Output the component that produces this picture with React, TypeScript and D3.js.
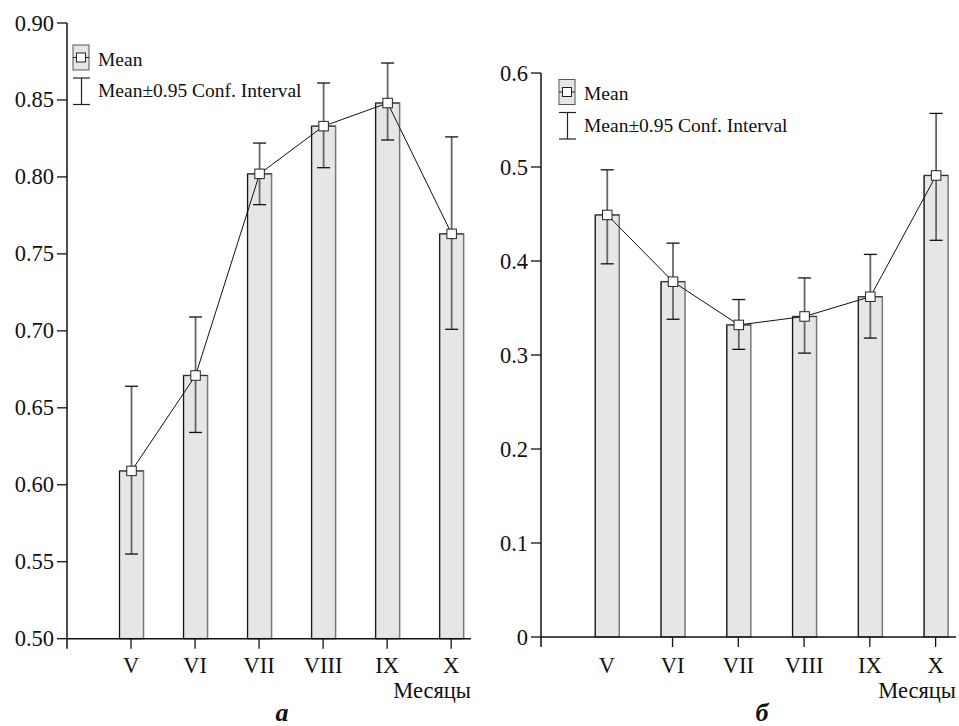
import React from "react";
import * as d3 from "d3";

const months = ["V", "VI", "VII", "VIII", "IX", "X"];

const meanA = [0.609, 0.671, 0.802, 0.833, 0.848, 0.763];
const upperA = [0.664, 0.709, 0.822, 0.861, 0.874, 0.826];
const lowerA = [0.555, 0.634, 0.782, 0.806, 0.824, 0.701];
const yTicksA = [0.5, 0.55, 0.6, 0.65, 0.7, 0.75, 0.8, 0.85, 0.9];

const meanB = [0.449, 0.378, 0.332, 0.341, 0.362, 0.491];
const upperB = [0.497, 0.419, 0.359, 0.382, 0.407, 0.557];
const lowerB = [0.397, 0.338, 0.306, 0.302, 0.318, 0.422];
const yTicksB = [0, 0.1, 0.2, 0.3, 0.4, 0.5, 0.6];

const legendMean = "Mean";
const legendCI = "Mean±0.95 Conf. Interval";
const xTitle = "Месяцы";

const FONT = "Liberation Serif, Times New Roman, Times, serif";
const ts = (size: number, extra: any = {}) => ({ fontFamily: FONT, fontSize: size + "px", fill: "#111", ...extra });

type PanelProps = {
  x0: number; x1: number; yTop: number; yBot: number;
  domain: [number, number];
  ticks: number[]; fmt: (v: number) => string;
  means: number[]; uppers: number[]; lowers: number[];
  lx: number; ly: number;
  letter: string; letterX: number;
  skipFirstTick?: boolean;
};

function Panel(p: PanelProps) {
  const x = d3.scaleLinear().domain([0, 6.31]).range([p.x0, p.x1]);
  const y = d3.scaleLinear().domain(p.domain).range([p.yBot, p.yTop]);
  const barW = 24;
  const capW = 13;
  const line = d3.line<number>().x((_, i) => x(i + 1) + 0.5).y((d) => y(d));
  return (
    <g>
      {p.means.map((m, i) => {
        const cx = x(i + 1) + 0.5;
        const top = y(m);
        return (
          <g key={"b" + i}>
            <rect x={cx - barW / 2} y={top} width={barW} height={p.yBot - top}
              fill="#e6e6e6" stroke="#777" strokeWidth={1.5} />
            <line x1={cx - barW / 2} x2={cx - barW / 2} y1={top} y2={p.yBot} stroke="#111" strokeWidth={1} />
            <line x1={cx - barW / 2} x2={cx + barW / 2} y1={top} y2={top} stroke="#333" strokeWidth={1} />
          </g>
        );
      })}
      {p.means.map((m, i) => {
        const cx = x(i + 1) + 0.5;
        return (
          <g key={"e" + i}>
            <line x1={cx} x2={cx} y1={y(p.uppers[i])} y2={y(p.lowers[i])} stroke="#666" strokeWidth={1.8} />
            <line x1={cx - capW / 2} x2={cx + capW / 2} y1={y(p.uppers[i])} y2={y(p.uppers[i])} stroke="#111" strokeWidth={1.3} />
            <line x1={cx - capW / 2} x2={cx + capW / 2} y1={y(p.lowers[i])} y2={y(p.lowers[i])} stroke="#111" strokeWidth={1.3} />
          </g>
        );
      })}
      <path d={line(p.means) || ""} fill="none" stroke="#111" strokeWidth={1} />
      {p.means.map((m, i) => (
        <rect key={"m" + i} x={x(i + 1) + 0.5 - 4.75} y={y(m) - 4.75} width={9.5} height={9.5}
          fill="#fff" stroke="#222" strokeWidth={1} />
      ))}
      <line x1={p.x0} x2={p.x0} y1={p.yTop} y2={p.yBot + 10} stroke="#111" strokeWidth={1.5} />
      {p.ticks.map((t, i) => (
        <g key={"yt" + i}>
          <line x1={p.x0 - 10} x2={p.x0} y1={y(t)} y2={y(t)} stroke="#111" strokeWidth={1.3} />
          <text x={p.x0 - 13} y={y(t) + 7.5} textAnchor="end" style={ts(22.5)}>{p.fmt(t)}</text>
        </g>
      ))}
      <line x1={p.x0} x2={p.x1} y1={p.yBot} y2={p.yBot} stroke="#111" strokeWidth={1.5} />
      {months.map((mo, i) => (
        <g key={"xt" + i}>
          {!(p.skipFirstTick && i === 0) && (
            <line x1={x(i + 1)} x2={x(i + 1)} y1={p.yBot} y2={p.yBot + 10} stroke="#111" strokeWidth={1.3} />
          )}
          <text x={x(i + 1)} y={673} textAnchor="middle" style={ts(22.5)}>{mo}</text>
        </g>
      ))}
      <text x={p.x1} y={698} textAnchor="end" style={ts(22.5)}>{xTitle}</text>
      <text x={p.letterX} y={721} textAnchor="middle" style={ts(26, { fontWeight: "bold", fontStyle: "italic" })}>{p.letter}</text>
      <g>
        <rect x={p.lx} y={p.ly} width={16} height={25} fill="#e6e6e6" stroke="#555" strokeWidth={1} />
        <line x1={p.lx} x2={p.lx + 16} y1={p.ly + 12.5} y2={p.ly + 12.5} stroke="#222" strokeWidth={1} />
        <rect x={p.lx + 8 - 4.5} y={p.ly + 12.5 - 4.5} width={9} height={9} fill="#fff" stroke="#222" strokeWidth={1} />
        <text x={p.lx + 25} y={p.ly + 20.5} style={ts(19.5)}>{legendMean}</text>
        <line x1={p.lx + 8.5} x2={p.lx + 8.5} y1={p.ly + 33} y2={p.ly + 59.5} stroke="#222" strokeWidth={1.2} />
        <line x1={p.lx} x2={p.lx + 17} y1={p.ly + 33} y2={p.ly + 33} stroke="#222" strokeWidth={1.2} />
        <line x1={p.lx} x2={p.lx + 17} y1={p.ly + 59.5} y2={p.ly + 59.5} stroke="#222" strokeWidth={1.2} />
        <text x={p.lx + 25} y={p.ly + 52} style={ts(19.5)}>{legendCI}</text>
      </g>
    </g>
  );
}

export default function App() {
  return (
    <svg width={959} height={726} style={{ position: "absolute", left: 0, top: 0, background: "#fff" }}>
      <rect x={0} y={0} width={959} height={726} fill="#fff" />
      <Panel x0={67} x1={471} yTop={23} yBot={638.7} domain={[0.5, 0.9]}
        ticks={yTicksA} fmt={(v) => v.toFixed(2)}
        means={meanA} uppers={upperA} lowers={lowerA}
        lx={73} ly={45} letter="а" letterX={282} />
      <Panel x0={541} x1={956} yTop={73} yBot={637} domain={[0, 0.6]}
        ticks={yTicksB} fmt={(v) => (v === 0 ? "0" : v.toFixed(1))}
        means={meanB} uppers={upperB} lowers={lowerB}
        lx={559} ly={79.5} letter="б" letterX={762} skipFirstTick />
    </svg>
  );
}
